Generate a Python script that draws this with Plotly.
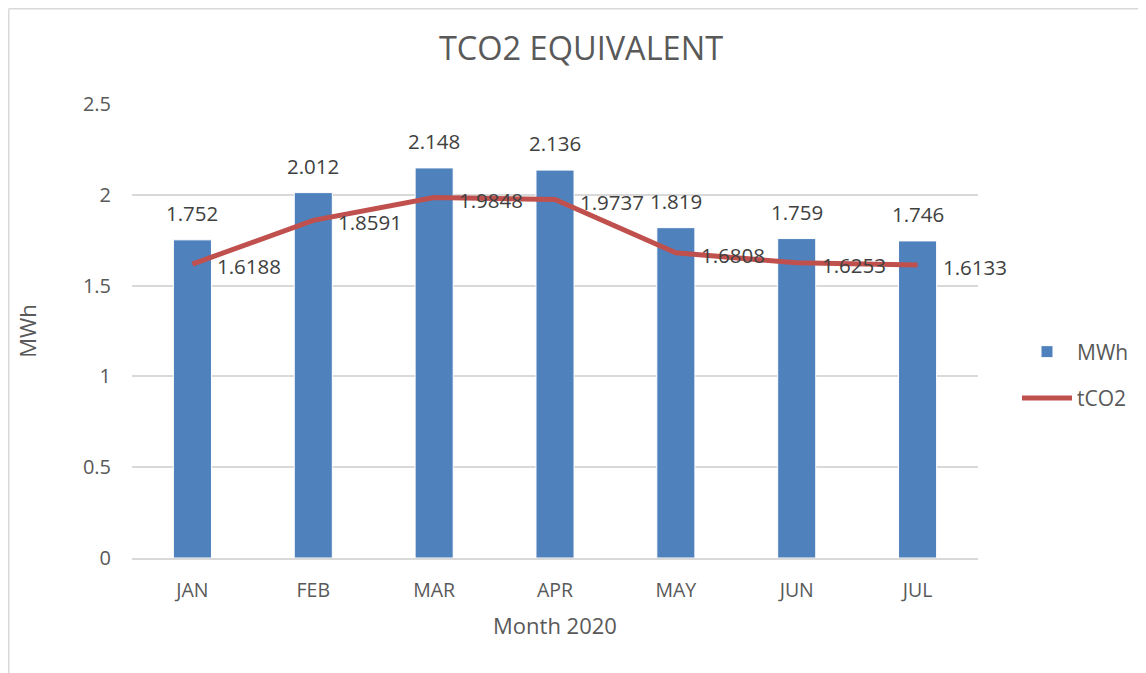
import plotly.graph_objects as go

months = ["JAN", "FEB", "MAR", "APR", "MAY", "JUN", "JUL"]
mwh = [1.752, 2.012, 2.148, 2.136, 1.819, 1.759, 1.746]
tco2 = [1.6188, 1.8591, 1.9848, 1.9737, 1.6808, 1.6253, 1.6133]
mwh_labels = ["1.752", "2.012", "2.148", "2.136", "1.819", "1.759", "1.746"]
tco2_labels = ["1.6188", "1.8591", "1.9848", "1.9737", "1.6808", "1.6253", "1.6133"]

FONT = "Open Sans"
TXT = "#595959"

fig = go.Figure()
fig.add_trace(go.Bar(
    x=months, y=mwh, name="MWh",
    marker=dict(color="#4F81BD", line=dict(color="white", width=1)),
    legendgroup="a",
))
fig.add_trace(go.Scatter(
    x=months, y=tco2, name="tCO2", mode="lines",
    line=dict(color="#C0504D", width=5),
    legendgroup="b",
))

for m, v, t in zip(months, mwh, mwh_labels):
    fig.add_annotation(x=m, y=v, text=t, showarrow=False, yshift=27,
                       yanchor="middle", font=dict(size=20.5, color="#404040", family=FONT))
for m, v, t in zip(months, tco2, tco2_labels):
    fig.add_annotation(x=m, y=v, text=t, showarrow=False, xshift=23, yshift=-2,
                       xanchor="left", yanchor="middle",
                       font=dict(size=20.5, color="#404040", family=FONT))

# page offset of the figure (default body margin)
OFF = 8
W, H = 1146 - OFF, 673 - OFF
L, T = 132 - OFF, 104 - OFF
PW, PH = 846, 454
R, B = W - L - PW, H - T - PH
# chart border (top and left), at the figure's edge
bx = (0.75 - L) / PW
by = (PH + T - 0.75) / PH
fig.add_shape(type="line", xref="paper", yref="paper",
              x0=bx, x1=(W - L) / PW, y0=by, y1=by,
              line=dict(color="#d9d9d9", width=1.5))
fig.add_shape(type="line", xref="paper", yref="paper",
              x0=bx, x1=bx, y0=by, y1=-B / PH,
              line=dict(color="#d9d9d9", width=1.5))

fig.update_layout(
    width=W, height=H,
    margin=dict(l=L, r=R, t=T, b=B, autoexpand=False),
    paper_bgcolor="white", plot_bgcolor="white",
    font=dict(family=FONT, color=TXT, size=19),
    title=dict(text="TCO2 EQUIVALENT", x=(581 - OFF) / W, xanchor="center",
               y=1 - (49 - OFF) / H, yanchor="middle", yref="container",
               font=dict(size=32.5, color=TXT, family=FONT)),
    bargap=0.685,
    showlegend=True,
    legend=dict(x=(1017 - 132) / PW, xanchor="left", y=(558 - 375) / PH, yanchor="middle",
                font=dict(size=21, color=TXT), tracegroupgap=16, itemwidth=50,
                bgcolor="rgba(0,0,0,0)"),
    xaxis=dict(
        title=dict(text="Month 2020", font=dict(size=22, color=TXT), standoff=16),
        tickfont=dict(size=19.5, color=TXT), showgrid=False,
        range=[-0.5, len(months) - 0.5], autorange=False,
        showline=True, linecolor="#d9d9d9", linewidth=1.5,
        ticks="", ticklabelstandoff=14, automargin=False,
    ),
    yaxis=dict(
        title=dict(text="MWh", font=dict(size=22, color=TXT), standoff=40),
        range=[0, 2.5], dtick=0.5,
        tickfont=dict(size=20, color=TXT),
        showgrid=True, gridcolor="#d9d9d9", gridwidth=1.5,
        zeroline=False, showline=False, ticks="", ticklabelstandoff=20,
        automargin=False,
    ),
)

fig.write_html("out.html")
